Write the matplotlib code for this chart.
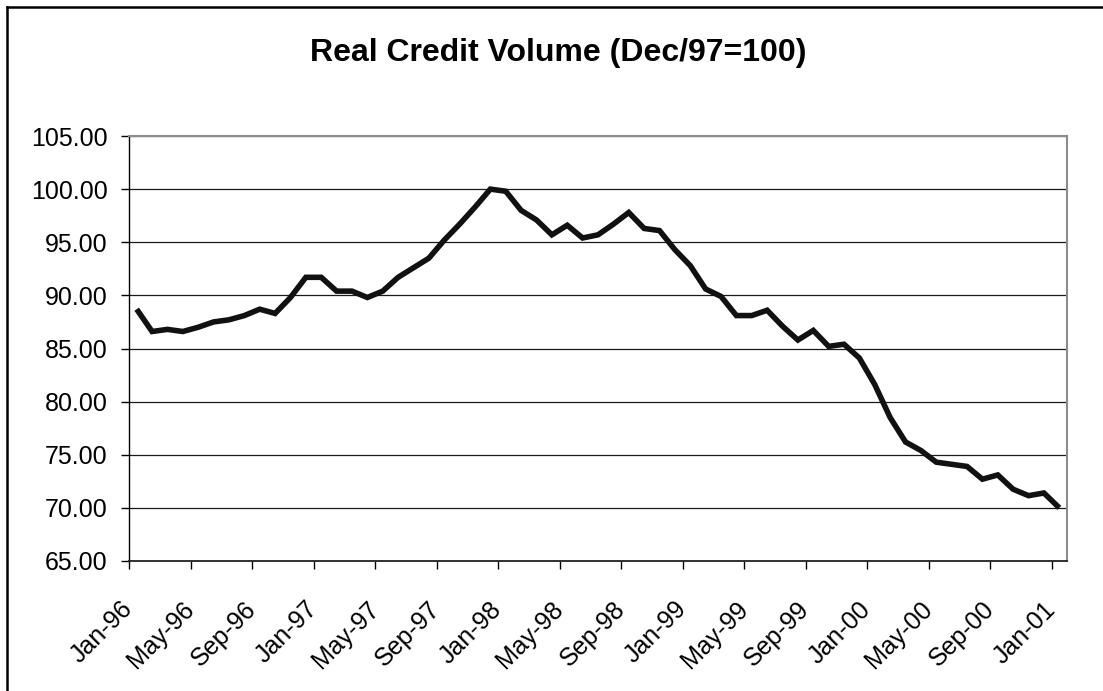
import matplotlib
matplotlib.use("Agg")
import matplotlib.pyplot as plt
import matplotlib.transforms as mtransforms
from matplotlib.lines import Line2D
import numpy as np

plt.rcParams["font.family"] = ["Liberation Sans", "DejaVu Sans"]

# monthly index, Jan-96 .. Jan-01 (Dec/97 = 100)
credit = [88.7, 86.6, 86.8, 86.6, 87.0, 87.5, 87.7, 88.1, 88.7, 88.3, 89.8, 91.7,
          91.7, 90.4, 90.4, 89.8, 90.4, 91.7, 92.6, 93.5, 95.2, 96.7, 98.3, 100.0,
          99.8, 98.0, 97.1, 95.7, 96.6, 95.4, 95.7, 96.7, 97.8, 96.3, 96.1, 94.3,
          92.8, 90.6, 89.9, 88.1, 88.1, 88.6, 87.1, 85.8, 86.7, 85.2, 85.4, 84.1,
          81.6, 78.5, 76.2, 75.4, 74.3, 74.1, 73.9, 72.7, 73.1, 71.75, 71.15, 71.4,
          70.0]
tick_labels = ["Jan-96", "May-96", "Sep-96", "Jan-97", "May-97", "Sep-97",
               "Jan-98", "May-98", "Sep-98", "Jan-99", "May-99", "Sep-99",
               "Jan-00", "May-00", "Sep-00", "Jan-01"]
y_ticks = [65, 70, 75, 80, 85, 90, 95, 100, 105]

W, H = 1103, 691
fig = plt.figure(figsize=(W / 100, H / 100), dpi=100)
fig.patch.set_facecolor("white")

# plot area in pixels
left, right, top, bottom = 129, 1067, 136, 561
ax = fig.add_axes([left / W, 1 - bottom / H, (right - left) / W, (bottom - top) / H])

x = np.arange(len(credit))
ax.plot(x, credit, color="#111111", linewidth=4.0, solid_joinstyle="miter",
        solid_capstyle="butt", zorder=3)

ax.set_xlim(-0.5, len(credit) - 0.5)
ax.set_ylim(65, 105)

ax.set_yticks(y_ticks)
ax.set_yticklabels([f"{v:.2f}" for v in y_ticks])
ax.yaxis.grid(True, color="#1a1a1a", linewidth=0.9)
ax.set_axisbelow(True)

ax.set_xticks(np.arange(0, len(credit), 4) - 0.5)
ax.set_xticklabels(tick_labels, rotation=45, ha="right", va="center",
                   rotation_mode="anchor")
offset = mtransforms.ScaledTranslation(4 / 100, 0, fig.dpi_scale_trans)
for lab in ax.get_xticklabels():
    lab.set_transform(lab.get_transform() + offset)

ax.tick_params(axis="y", direction="out", length=6, width=1, pad=9.5,
               labelsize=18, colors="black")
ax.tick_params(axis="x", direction="out", length=6, width=1, pad=26,
               labelsize=18, colors="black")

for side in ["top", "right"]:
    ax.spines[side].set_color("#8c8c8c")
    ax.spines[side].set_linewidth(1.5)
ax.spines["left"].set_color("black")
ax.spines["left"].set_linewidth(1.0)
ax.spines["bottom"].set_color("#222222")
ax.spines["bottom"].set_linewidth(1.3)

fig.text(558 / W, 1 - 61 / H, "Real Credit Volume (Dec/97=100)",
         ha="center", va="baseline", fontsize=23, fontweight="bold")

# outer chart-area border (cut off at right and bottom)
bx, by = 6.5 / W, 1 - 6.5 / H
fig.add_artist(Line2D([bx, bx], [0, by], transform=fig.transFigure,
                      color="black", linewidth=1.8))
fig.add_artist(Line2D([bx, 1], [by, by], transform=fig.transFigure,
                      color="black", linewidth=1.8))

fig.savefig("out.png", dpi=100)
